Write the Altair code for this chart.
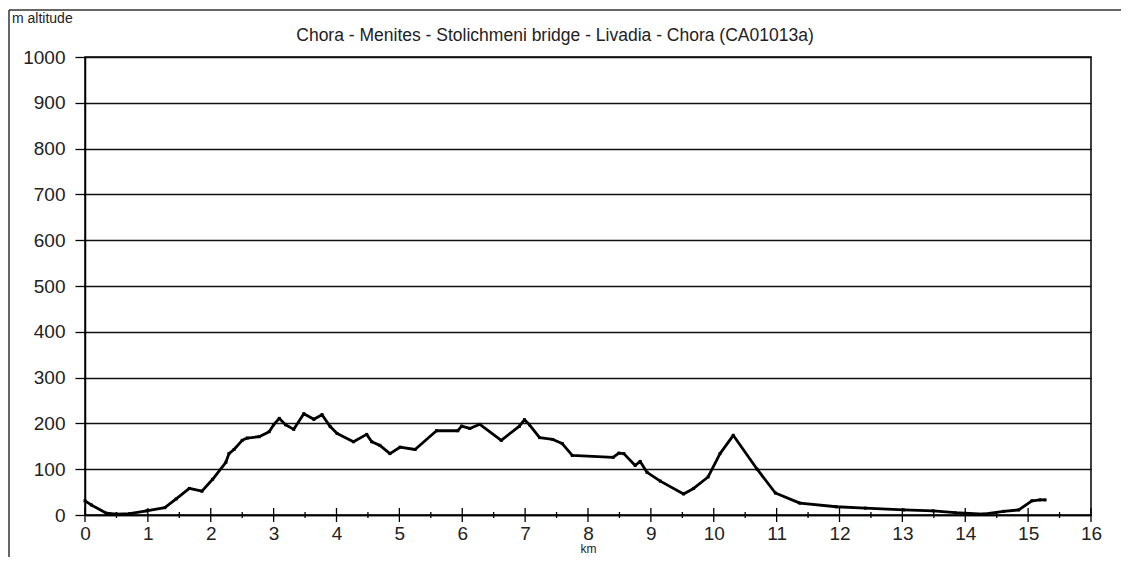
import altair as alt
import pandas as pd

# distance (km) and altitude (m) read from the profile
km = [0, 0.1, 0.34, 0.5, 0.71, 0.98, 1.27, 1.45, 1.66, 1.86, 2.03, 2.24, 2.29, 2.37,
      2.50, 2.58, 2.77, 2.93, 3.0, 3.09, 3.19, 3.32, 3.48, 3.64, 3.77, 3.90, 4.01,
      4.27, 4.48, 4.56, 4.69, 4.85, 5.01, 5.25, 5.59, 5.93, 5.99, 6.12, 6.28, 6.62,
      6.91, 6.99, 7.07, 7.23, 7.44, 7.59, 7.75, 8.40, 8.49, 8.57, 8.75, 8.83, 8.94,
      9.15, 9.52, 9.68, 9.91, 10.10, 10.31, 10.69, 10.98, 11.37, 11.95, 12.41, 13.02,
      13.49, 13.84, 14.29, 14.61, 14.85, 15.06, 15.19, 15.27]
altitude = [31, 22, 4, 2, 3, 9, 16, 35, 58, 52, 78, 115, 134, 143,
            163, 168, 171, 182, 197, 211, 197, 187, 221, 209, 219, 193, 178,
            160, 176, 160, 152, 134, 148, 143, 184, 184, 194, 189, 198, 163,
            194, 208, 197, 169, 165, 156, 130, 126, 135, 134, 108, 117, 93,
            74, 46, 58, 83, 134, 174, 100, 48, 26, 18, 15, 11,
            9, 5, 2, 8, 11, 31, 33, 33]

x_major = list(range(0, 17))
x_minor = [i + 0.5 for i in range(0, 16)]
y_ticks = list(range(0, 1001, 100))

title_text = "Chora - Menites - Stolichmeni bridge - Livadia - Chora (CA01013a)"
y_title = "m altitude"
x_title = "km"

FONT = "Liberation Sans, Arial, sans-serif"
W, H = 1006, 458

df = pd.DataFrame({"km": km, "alt": altitude})

xscale = alt.Scale(domain=[0, 16], nice=False, zero=False)
yscale = alt.Scale(domain=[0, 1000], nice=False)

base = alt.Chart(df)

line = base.mark_line(color="black", strokeWidth=2.8, strokeJoin="round").encode(
    x=alt.X("km:Q", scale=xscale,
            axis=alt.Axis(values=x_major, format="d", ticks=False, labelFontSize=19,
                          labelColor="#222", labelPadding=9, labelFlush=False,
                          domainColor="black", domainWidth=1.5,
                          grid=False, title=x_title, titleFontSize=12,
                          titleFontWeight="normal", titleColor="#222", titlePadding=0,
                          labelFont=FONT, titleFont=FONT)),
    y=alt.Y("alt:Q", scale=yscale,
            axis=alt.Axis(values=y_ticks, format="d", tickSize=10, tickColor="black",
                          tickWidth=1.3, labelFontSize=19, labelColor="#222",
                          labelPadding=10, labelFlush=False,
                          domainColor="black", domainWidth=1.5, grid=True,
                          gridColor="#111", gridWidth=1.3, title="", labelFont=FONT)),
)

pts = base.mark_point(shape="square", filled=True, color="black", size=9, opacity=1).encode(
    x=alt.X("km:Q", scale=xscale), y=alt.Y("alt:Q", scale=yscale))

major = alt.Chart(pd.DataFrame({"t": x_major})).mark_rule(color="black", strokeWidth=1.3).encode(
    x=alt.X("t:Q", scale=xscale), y=alt.value(H - 7), y2=alt.value(H + 7))
minor = alt.Chart(pd.DataFrame({"t": x_minor})).mark_rule(color="black", strokeWidth=1.3).encode(
    x=alt.X("t:Q", scale=xscale), y=alt.value(H - 3), y2=alt.value(H + 3))

one = pd.DataFrame({"a": [0]})
title = alt.Chart(one).mark_text(fontSize=17.5, font=FONT, color="#222", align="center",
                                 baseline="middle", text=title_text).encode(
    x=alt.value(470), y=alt.value(-21))
ylab = alt.Chart(one).mark_text(fontSize=14, font=FONT, color="#222", align="left",
                                baseline="middle", text=y_title).encode(
    x=alt.value(-73), y=alt.value(-38))

frame_v = alt.Chart(one).mark_rule(color="#333", strokeWidth=1.5).encode(
    x=alt.value(-76), y=alt.value(-47), y2=alt.value(H + 42))
frame_h = alt.Chart(one).mark_rule(color="#333", strokeWidth=1.5).encode(
    x=alt.value(-76), x2=alt.value(W + 30), y=alt.value(-47))

chart = alt.layer(line, pts, major, minor, title, ylab, frame_v, frame_h).properties(
    width=W, height=H,
    autosize=alt.AutoSizeParams(type="none"),
    padding={"left": 77, "top": 49, "right": 30, "bottom": 42},
    background="white",
).configure_view(stroke="black", strokeWidth=1.5)

chart.save("out.html", embed_options={"renderer": "svg", "actions": False})
